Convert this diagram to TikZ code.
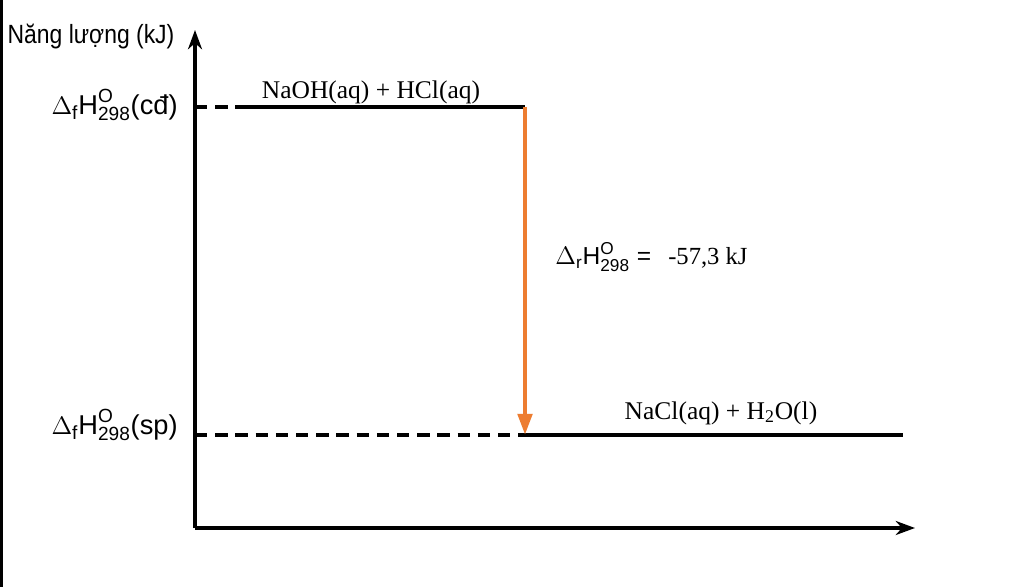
\documentclass[tikz,border=0pt]{standalone}
\usepackage{amsmath}
\usepackage{graphicx}
\usepackage{fontspec}
\setmainfont{Liberation Sans}
\newfontfamily\chemfont{Liberation Serif}
\usepackage{tikz}
\usetikzlibrary{arrows.meta,positioning}
\definecolor{arroworange}{RGB}{237,125,49}
\newcommand{\enth}[2]{$\Delta_{\text{#1}}\text{H}^{\text{O}}_{\text{298}}$#2}

\begin{document}
\begin{tikzpicture}[x=0.02cm,y=-0.02cm,
  axis/.style={line width=1.8pt,-{Stealth[length=11pt,width=8pt]}},
  level/.style={line width=2.2pt},
  guide/.style={line width=2pt,dash pattern=on 7pt off 4.5pt},
  lbl/.style={font=\fontsize{15.5}{17}\selectfont,inner sep=0pt},
  chem/.style={font=\chemfont\fontsize{14.5}{16}\selectfont,inner sep=0pt}]
  \useasboundingbox (0,0) rectangle (1024,587);
  \fill[white] (0,0) rectangle (1024,587);
  \draw[line width=2pt] (1.5,0) -- (1.5,587);
  % axes
  \coordinate (O) at (195,528);
  \coordinate (ytop) at (195,30);
  \coordinate (xend) at (915,528);
  \draw[axis] (O) -- (ytop);
  \draw[axis] (O) -- (xend);
  % levels
  \coordinate (r0) at (195,107);
  \coordinate (r1) at (240,107);
  \coordinate (r2) at (525,107);
  \coordinate (p0) at (195,435);
  \coordinate (p1) at (525,435);
  \coordinate (p2) at (903,435);
  \draw[guide] (r0) -- (r1);
  \draw[level] (r1) -- (r2);
  \draw[guide] (p0) -- (p1);
  \draw[level] (p1) -- (p2);
  \draw[arroworange,line width=2.6pt,-{Triangle[length=12pt,width=8pt]}] (r2) -- (p1);
  % labels
  \node[lbl,font=\fontsize{15}{17}\selectfont] (ylab) at (91,37)
    {\scalebox{0.87}[1]{Năng lượng (kJ)}};
  \node[lbl,anchor=east] (cd) at (178,105) {\enth{f}{(cđ)}};
  \node[lbl,anchor=east] (sp) at (178,425) {\enth{f}{(sp)}};
  \node[chem] (react) at (371,92) {NaOH(aq) + HCl(aq)};
  \node[chem] (prod) at (721,413) {NaCl(aq) + H\textsubscript{2}O(l)};
  \node[lbl,anchor=west,font=\fontsize{14}{16}\selectfont] (dH) at (555,257)
    {\enth{r}{ = \chemfont\, -57,3 kJ}};
\end{tikzpicture}
\end{document}
